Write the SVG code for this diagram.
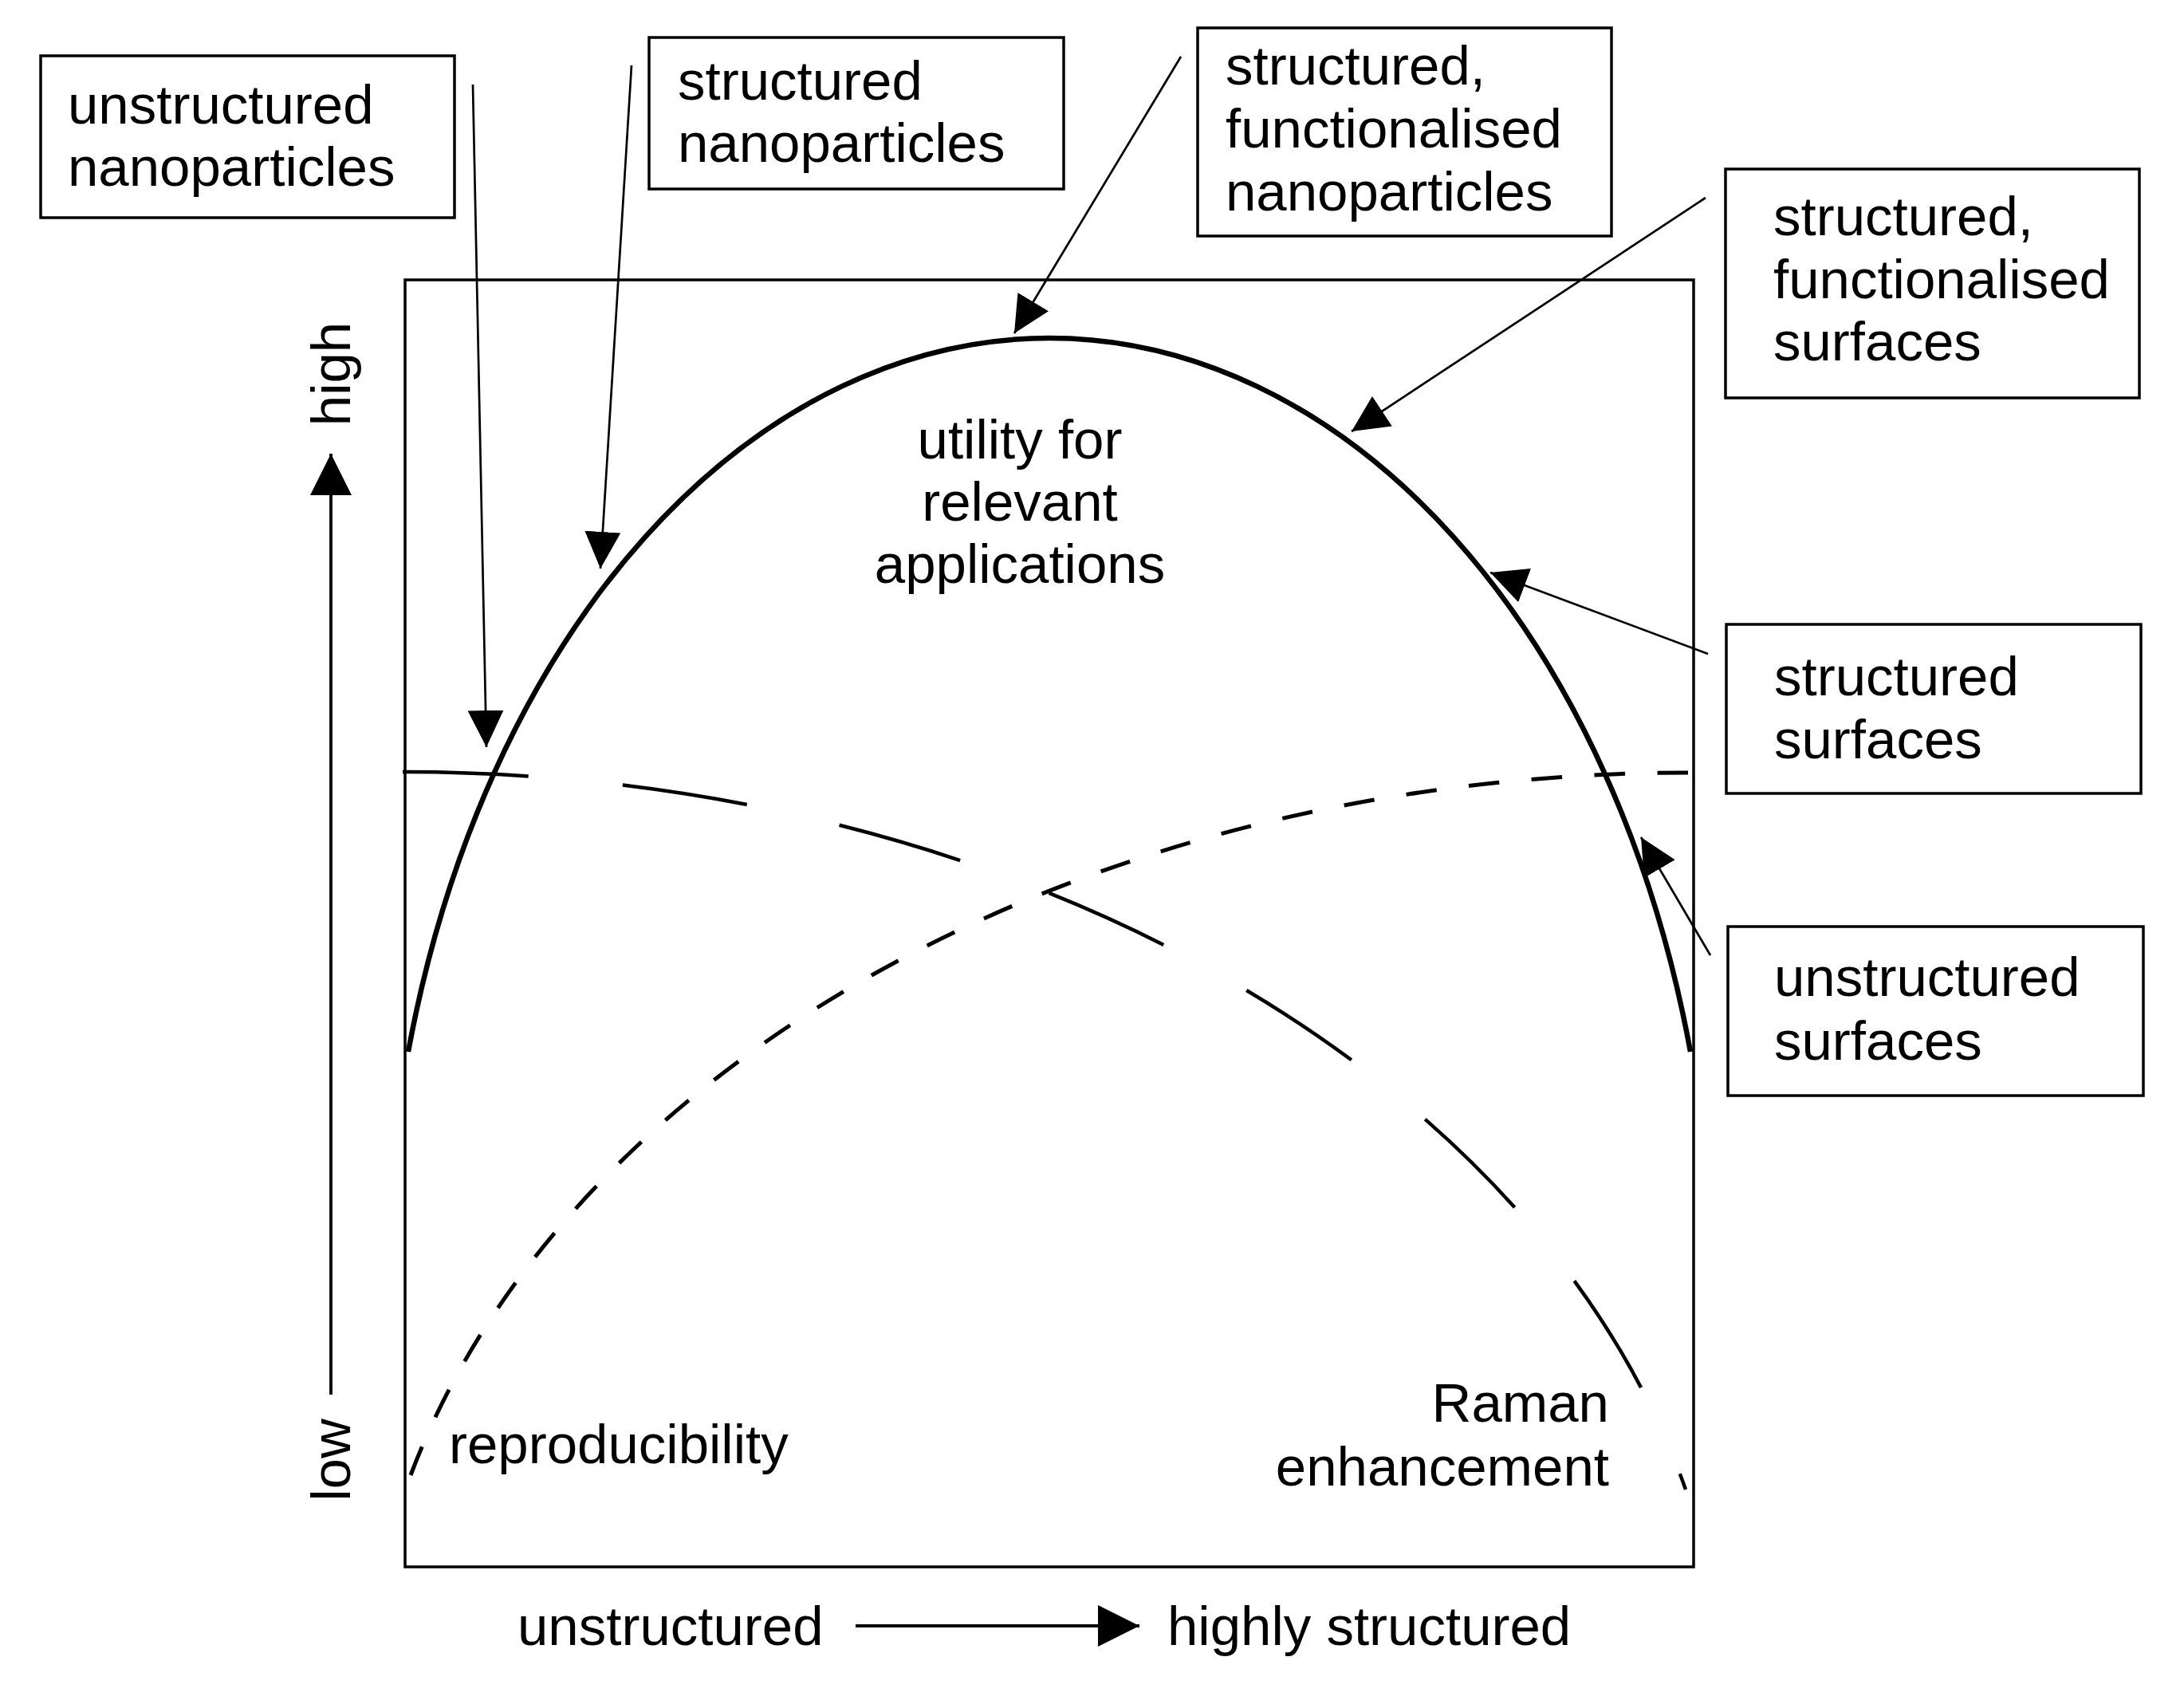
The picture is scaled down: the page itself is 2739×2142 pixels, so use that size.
<svg xmlns="http://www.w3.org/2000/svg" width="2739" height="2142" viewBox="0 0 2739 2142">
<style>
text{font-family:"Liberation Sans",Arial,sans-serif;font-size:69px;fill:#000}
.box{fill:#fff;stroke:#000;stroke-width:3.5}
.conn{stroke:#000;stroke-width:2.7;fill:none;marker-end:url(#ah)}
.axis{stroke:#000;stroke-width:3.8;fill:none;marker-end:url(#axh)}
.curve{fill:none;stroke:#000}
</style>
<defs>
<marker id="ah" markerUnits="userSpaceOnUse" markerWidth="46" markerHeight="45" refX="46" refY="22.5" orient="auto" viewBox="0 0 46 45"><path d="M0,0 L46,22.5 L0,45 Z" fill="#000"/></marker>
<marker id="axh" markerUnits="userSpaceOnUse" markerWidth="52" markerHeight="52" refX="52" refY="26" orient="auto" viewBox="0 0 52 52"><path d="M0,0 L52,26 L0,52 Z" fill="#000"/></marker>
</defs>
<rect width="2739" height="2142" fill="#fff"/>

<g id="plot">
<rect x="508" y="351" width="1616" height="1614" fill="none" stroke="#000" stroke-width="3.5"/>
<path id="utility-curve" class="curve" stroke-width="6.5" d="M 512 1319 A 832 1205 0 0 1 2120 1319"/>
<path id="raman-curve" class="curve" stroke-width="4.5" pathLength="1946" stroke-dasharray="157 118" d="M 505 968 A 1660 1194 0 0 1 2114 1868"/>
<path id="repro-curve" class="curve" stroke-width="5" pathLength="1959" stroke-dasharray="39 41" d="M 515 1850 A 1660 1194 0 0 1 2117 969"/>
<text x="1279" y="575" text-anchor="middle">utility for</text>
<text x="1279" y="653" text-anchor="middle">relevant</text>
<text x="1279" y="731" text-anchor="middle">applications</text>
<text x="563" y="1835">reproducibility</text>
<text x="2018" y="1783" text-anchor="end">Raman</text>
<text x="2018" y="1863" text-anchor="end">enhancement</text>
</g>

<g id="axes">
<line class="axis" x1="415" y1="1749" x2="415" y2="569"/>
<line class="axis" x1="1073" y1="2039" x2="1429" y2="2039"/>
<text transform="translate(439,469) rotate(-90)" text-anchor="middle">high</text>
<text transform="translate(439,1831) rotate(-90)" text-anchor="middle">low</text>
<text x="649" y="2063">unstructured</text>
<text x="1464" y="2063">highly structured</text>
</g>

<g id="connectors">
<line class="conn" x1="593" y1="106" x2="610" y2="937"/>
<line class="conn" x1="792" y1="82" x2="753" y2="713"/>
<line class="conn" x1="1481" y1="71" x2="1272" y2="418"/>
<line class="conn" x1="2139" y1="248" x2="1695" y2="541"/>
<line class="conn" x1="2142" y1="820" x2="1869" y2="718"/>
<line class="conn" x1="2145" y1="1198" x2="2058" y2="1050"/>
</g>

<g id="node-unstructured-nanoparticles">
<rect class="box" x="51" y="70" width="519" height="203"/>
<text x="85" y="155">unstructured</text>
<text x="85" y="233">nanoparticles</text>
</g>
<g id="node-structured-nanoparticles">
<rect class="box" x="814" y="47" width="520" height="190"/>
<text x="850" y="125">structured</text>
<text x="850" y="203">nanoparticles</text>
</g>
<g id="node-structured-functionalised-nanoparticles">
<rect class="box" x="1502" y="35" width="519" height="261"/>
<text x="1537" y="106">structured,</text>
<text x="1537" y="185">functionalised</text>
<text x="1537" y="264">nanoparticles</text>
</g>
<g id="node-structured-functionalised-surfaces">
<rect class="box" x="2164" y="212" width="519" height="287"/>
<text x="2224" y="295">structured,</text>
<text x="2224" y="374">functionalised</text>
<text x="2224" y="452">surfaces</text>
</g>
<g id="node-structured-surfaces">
<rect class="box" x="2165" y="783" width="520" height="212"/>
<text x="2225" y="872">structured</text>
<text x="2225" y="951">surfaces</text>
</g>
<g id="node-unstructured-surfaces">
<rect class="box" x="2167" y="1162" width="521" height="212"/>
<text x="2225" y="1249">unstructured</text>
<text x="2225" y="1329">surfaces</text>
</g>
</svg>
